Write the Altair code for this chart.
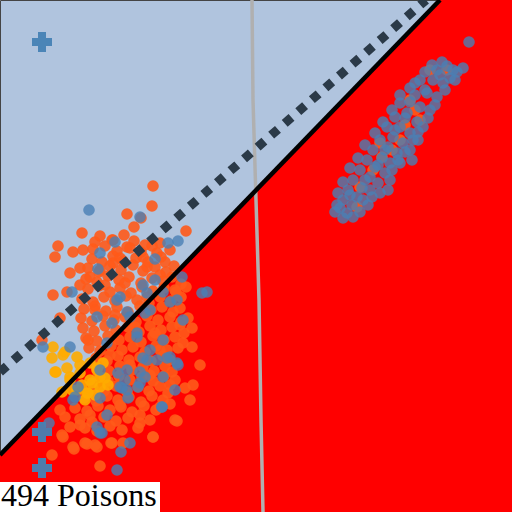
import altair as alt
import pandas as pd

# Region boundary (data units, y measured downward)
boundary_x = [0, 440, 512]
boundary_y = [455, 0, 0]
dotted_x = [0, 426]
dotted_y = [372, 0]
gray_x = [252, 253, 256, 259, 261, 263]
gray_y = [0, 100, 200, 300, 420, 512]

plus_x = [42, 42, 42]
plus_y = [42, 432, 468]

label_text = "494 Poisons"

orange_pts = [
    # sparse upper / left
    (153,186),(152,206),(127,214),(141,218),(134,227),(82,233),(186,231),(58,246),(55,257),
    (73,252),(83,250),(95,242),(112,240),(127,247),(143,257),(157,253),(147,267),(70,273),
    (80,268),(90,277),(53,295),(67,292),(80,285),(100,270),(113,263),(42,340),(60,318),
    (165,262),(170,250),(160,243),
    # dense core
    (100,236),(113,240),(124,235),(134,241),
    (93,249),(105,246),(117,251),(130,248),(141,252),(152,246),
    (92,259),(102,262),(113,256),(123,261),(136,258),(148,262),(161,257),
    (88,268),(99,272),(110,266),(121,270),(133,265),(143,271),(155,267),(166,272),(174,266),
    (86,279),(97,282),(108,276),(119,280),(129,277),(141,283),(152,278),(163,281),(172,277),(181,284),
    (88,289),(99,286),(110,292),(120,288),(131,293),(142,287),(153,291),(164,288),(176,292),(186,287),
    (82,299),(93,302),(104,297),(115,301),(126,296),(137,300),(149,303),(160,297),(171,301),(181,297),
    (84,309),(95,306),(106,311),(117,307),(128,312),(140,306),(151,310),(162,307),(173,312),(180,308),
    (81,318),(92,321),(103,316),(114,320),(125,317),(136,322),(147,316),(158,320),(170,317),(181,322),(188,318),
    (83,328),(94,331),(105,326),(116,330),(128,327),(139,332),(150,326),(161,330),(172,327),(184,333),(192,328),
    (86,338),(97,341),(108,336),(119,340),(130,337),(141,342),(153,336),(164,340),(175,337),(183,343),(192,347),
    (89,348),(100,351),(111,346),(122,350),(133,347),(145,352),(156,346),(167,350),(178,348),
    (96,358),(107,361),(118,356),(129,360),(140,357),(151,361),(163,356),(170,360),
    (98,368),(109,371),(120,366),(132,370),(143,367),(154,371),(165,366),(172,372),
    (97,378),(108,381),(119,376),(130,380),(142,377),(153,381),(164,376),(175,380),(185,388),
    (93,388),(104,391),(116,386),(127,392),(138,387),(149,391),(160,386),(168,393),
    (84,398),(96,401),(107,396),(118,400),(129,397),(141,402),(152,396),(163,400),(170,404),
    (75,408),(87,411),(98,406),(110,410),(121,407),(132,412),(144,406),(156,410),(160,407),
    (65,417),(80,419),(92,422),(104,417),(116,421),(128,418),(140,423),(150,420),(175,420),
    (85,428),(97,431),(110,426),(122,430),(138,428),
    # fill-in
    (105,285),(125,283),(147,297),(115,315),(135,327),(155,333),(110,355),(130,365),(150,375),
    (170,385),(100,395),(120,405),(140,415),(90,415),(160,350),(180,325),(95,310),(88,340),
    (145,245),(120,258),(160,275),(175,290),
    # sparse bottom
    (60,410),(52,455),(74,449),(87,444),(97,447),(100,466),(111,443),(123,443),(153,437),
    (177,421),(62,435),(70,427),(80,425),(63,437),(73,447),(95,445),(85,443),(112,443),
    (153,437),(193,385),(200,365),(190,400),
    # upper-right cluster (orange, partly hidden)
    (430,70),(447,70),(410,100),(420,120),(400,140),(380,143),(373,170),(360,187),
    (357,207),(382,157),(415,110),(392,150),(405,125),
]

yellow_pts = [
    (52,358),(63,355),(55,372),(67,368),(80,365),(70,380),(62,392),(82,385),(90,380),
    (97,370),(87,393),(72,390),(100,387),(105,378),(90,363),(77,357),(53,347),(65,352),
    (56,372),(70,377),(80,373),(92,383),(100,377),(88,393),(77,390),(103,363),(97,368),
    (85,400),(95,395),(108,385),
]

blue_pts = [
    # lower-left cluster
    (89,210),(140,217),(168,243),(178,241),(100,253),(98,269),(115,242),(155,259),
    (72,292),(43,347),(70,347),(182,277),(207,292),(202,293),(155,280),(143,285),(120,297),
    (130,317),(150,310),(170,302),(183,320),(112,323),(97,317),(107,343),(137,337),(163,340),
    (177,363),(147,360),(127,370),(100,370),(120,387),(140,383),(163,377),(78,387),(73,400),
    (100,398),(127,390),(178,365),(175,390),(162,407),(130,443),(75,397),(122,388),(128,398),
    (107,415),(97,427),(102,433),(138,387),(143,358),(150,350),(167,358),(170,357),(145,313),
    (137,333),(127,312),(117,300),(147,293),(163,292),(177,300),(118,373),(125,380),(140,372),
    (145,377),(157,360),(121,452),(117,470),(162,407),(49,423),(100,433),
    # upper-right cluster
    (469,42),(453,70),(447,66),(432,65),(437,70),(457,72),(420,80),(433,80),(443,83),
    (415,83),(427,93),(437,97),(410,102),(420,107),(430,110),(400,103),(407,113),(417,122),
    (423,127),(395,117),(400,127),(410,133),(418,132),(387,127),(393,137),(403,143),(413,140),
    (380,140),(388,147),(397,153),(405,152),(373,150),(382,158),(390,163),(398,160),(367,160),
    (375,167),(385,173),(392,170),(360,170),(370,177),(378,183),(353,180),(362,188),(370,190),
    (348,190),(357,197),(363,200),(343,200),(352,205),(340,208),(347,213),(353,217),(337,205),
    (440,75),(425,90),(415,95),(405,118),(395,130),(385,150),(378,165),(365,180),(350,195),
    (445,90),(450,78),(435,105),(428,118),(418,140),(410,150),(400,163),(390,180),(380,193),
    (368,205),(360,212),(425,72),(410,88),(400,95),(392,110),(383,122),(375,133),(365,145),
    (358,158),(350,168),(343,182),(338,193),(335,212),(343,218),(455,80),(463,68),(442,62),
    (372,197),(388,190),(412,160),
]

X = alt.Scale(domain=[0, 512], nice=False, zero=False)
Y = alt.Scale(domain=[0, 512], nice=False, zero=False, reverse=True)

def pts_df(pts):
    return pd.DataFrame(pts, columns=["x", "y"])

area_df = pd.DataFrame({"x": boundary_x, "y": boundary_y, "y2": [512] * len(boundary_x)})
red = alt.Chart(area_df).mark_area(color="#ff0000", clip=True).encode(
    x=alt.X("x:Q", scale=X, axis=None),
    y=alt.Y("y:Q", scale=Y, axis=None),
    y2="y2:Q",
)

gray = alt.Chart(pd.DataFrame({"x": gray_x, "y": gray_y})).mark_line(
    color="#b0b0b0", strokeWidth=3.5, clip=True
).encode(x=alt.X("x:Q", scale=X), y=alt.Y("y:Q", scale=Y), order="y:Q")

def scatter(pts, color, op):
    return alt.Chart(pts_df(pts)).mark_circle(color=color, size=135, opacity=op, clip=True).encode(
        x=alt.X("x:Q", scale=X), y=alt.Y("y:Q", scale=Y)
    )

orange = scatter(orange_pts, "#ff5a1a", 0.9)
yellow = scatter(yellow_pts, "#ffac00", 0.9)
blue = scatter(blue_pts, "#4a80b4", 0.8)

plus = alt.Chart(pd.DataFrame({"x": plus_x, "y": plus_y})).mark_point(
    shape="cross", filled=True, size=400, color="#4682b4", opacity=0.95, clip=True
).encode(x=alt.X("x:Q", scale=X), y=alt.Y("y:Q", scale=Y))

black = alt.Chart(pd.DataFrame({"x": boundary_x[:2], "y": boundary_y[:2]})).mark_line(
    color="black", strokeWidth=4.5, clip=True
).encode(x=alt.X("x:Q", scale=X), y=alt.Y("y:Q", scale=Y))

dotted = alt.Chart(pd.DataFrame({"x": dotted_x, "y": dotted_y})).mark_line(
    color="#2b3a48", strokeWidth=9, strokeDash=[9, 9], clip=True
).encode(x=alt.X("x:Q", scale=X), y=alt.Y("y:Q", scale=Y))

label_df = pd.DataFrame({"x": [0], "x2": [160], "y": [482], "y2": [512], "tx": [1], "ty": [496], "t": [label_text]})
box = alt.Chart(label_df).mark_rect(color="white").encode(
    x=alt.X("x:Q", scale=X), x2="x2:Q", y=alt.Y("y:Q", scale=Y), y2="y2:Q"
)
text = alt.Chart(label_df).mark_text(
    font="Liberation Serif", fontSize=32, align="left", baseline="middle", color="black"
).encode(x=alt.X("tx:Q", scale=X), y=alt.Y("ty:Q", scale=Y), text="t:N")

chart = alt.layer(red, gray, orange, yellow, blue, plus, black, dotted, box, text).properties(
    width=512, height=512, padding=0, autosize=alt.AutoSizeParams(type="none")
).configure_view(fill="#b0c4de", stroke="#444444", strokeWidth=1)

chart.save("out.html", embed_options={"renderer": "svg", "actions": False})
